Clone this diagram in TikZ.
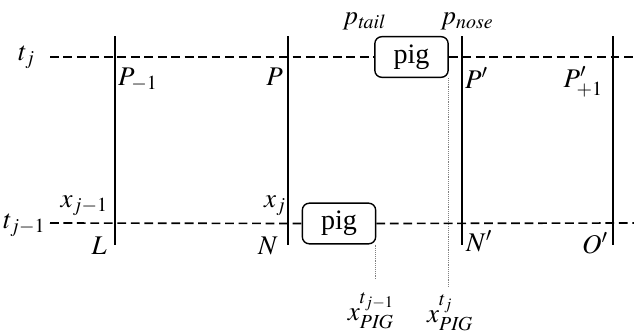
\documentclass[tikz,border=0pt]{standalone}
\usepackage{mathptmx}
\usepackage{fontspec}
\setmainfont{Liberation Serif}
\usetikzlibrary{positioning,calc}

\begin{document}
\begin{tikzpicture}[
    x=0.03cm, y=-0.03cm,
    timeline/.style={line width=1.4pt, dash pattern=on 7.5pt off 4pt},
    station/.style={line width=1.2pt},
    pigbox/.style={rectangle, rounded corners=6pt, draw, line width=1.2pt, fill=white, minimum width=2.2cm, minimum height=1.22cm, font=\fontsize{24}{28}\selectfont},
    guide/.style={densely dotted, line width=0.6pt, gray},
    lbl/.style={inner sep=0pt, font=\fontsize{23}{27}\selectfont}
]
\useasboundingbox (0,0) rectangle (634,334);

% time lines
\coordinate (tjL) at (50,57);
\coordinate (tjR) at (634,57);
\coordinate (tjmL) at (50,223);
\coordinate (tjmR) at (634,223);

\node (pigtop) [pigbox] at (411.5,57) {pig};
\node (pigbot) [pigbox] at (339,223.5) {pig};

\draw[timeline] (tjL) -- (pigtop.west);
\draw[timeline] (pigtop.east) -- (tjR);
\draw[timeline] (tjmL) -- (pigbot.west);
\draw[timeline] (pigbot.east) -- (tjmR);

% stations
\coordinate (sLt) at (115,36);   \coordinate (sLb) at (115,245);
\coordinate (sNt) at (288,36);   \coordinate (sNb) at (288,245);
\coordinate (sNpt) at (462,36);  \coordinate (sNpb) at (462,245);
\coordinate (sOt) at (613,36);   \coordinate (sOb) at (613,245);

\draw[station] (sLt) -- (sLb);
\draw[station] (sNt) -- (sNb);
\draw[station] (sNpt) -- (sNpb);
\draw[station] (sOt) -- (sOb);

% pig positions
\coordinate (dtj) at (448,287);
\coordinate (dtjm) at (375,280);
\draw[guide] (pigtop.south east -| dtj) -- (dtj);
\draw[guide] (pigbot.south east -| dtjm) -- (dtjm);

% labels
\node (tj) [lbl, anchor=west] at (18,57) {$t_j$};
\node (tjm) [lbl, anchor=west] at (3,225) {$t_{j-1}$};
\node (Pm) [lbl, anchor=west] at (118,80) {$P_{-1}$};
\node (P) [lbl, anchor=east] at (283,77) {$P$};
\node (ptail) [lbl] at (364,21) {$p_{\mathit{tail}}$};
\node (pnose) [lbl] at (467,21) {$p_{\mathit{nose}}$};
\node (Pp) [lbl, anchor=west] at (465,78) {$P'$};
\node (Ppp) [lbl, anchor=east] at (603,82) {$P'_{+1}$};
\node (xjm) [lbl, anchor=east] at (108,206) {$x_{j-1}$};
\node (L) [lbl, anchor=east] at (107,246) {$L$};
\node (xj) [lbl, anchor=east] at (286,206) {$x_j$};
\node (N) [lbl, anchor=east] at (278,246) {$N$};
\node (Np) [lbl, anchor=west] at (466,241) {$N'$};
\node (Op) [lbl, anchor=east] at (608,243) {$O'$};
\node (xpjm) [lbl] at (371,311) {$x_{\mathit{PIG}}^{t_{j-1}}$};
\node (xpj) [lbl] at (450,313) {$x_{\mathit{PIG}}^{t_j}$};

\end{tikzpicture}
\end{document}
